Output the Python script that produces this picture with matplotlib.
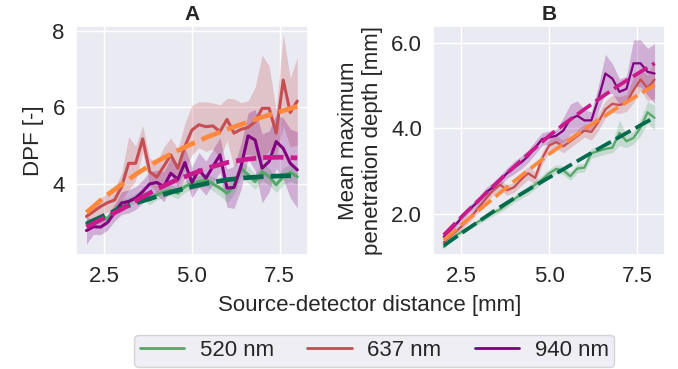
import numpy as np
import matplotlib
matplotlib.use("Agg")
import matplotlib.pyplot as plt
import seaborn as sns
from matplotlib.lines import Line2D

sns.set_theme(style="darkgrid")
plt.rcParams['font.family'] = ['Liberation Sans', 'DejaVu Sans']

# source-detector distances [mm]
dist = [2.0, 2.2, 2.4, 2.6, 2.8, 3.0, 3.2, 3.4, 3.6, 3.8, 4.0, 4.2, 4.4, 4.6, 4.8, 5.0,
        5.2, 5.4, 5.6, 5.8, 6.0, 6.2, 6.4, 6.6, 6.8, 7.0, 7.2, 7.4, 7.6, 7.8, 8.0]
fit_dist = [2.0, 2.5, 3.0, 3.5, 4.0, 4.5, 5.0, 5.5, 6.0, 6.5, 7.0, 7.5, 8.0]

labels = ["520 nm", "637 nm", "940 nm"]
line_cols = ["#55a868", "#c44e52", "#800080"]
fit_cols = ["#006b4c", "#ff8a3d", "#c9198b"]

# panel A: DPF
dpf_520 = [2.96, 3.05, 3.05, 3.09, 3.31, 3.49, 3.53, 3.62, 3.70, 3.57, 3.70, 3.79, 3.82, 3.75, 3.92, 4.01,
           4.05, 4.10, 3.99, 3.88, 3.75, 3.92, 4.40, 4.23, 4.05, 4.31, 4.18, 3.97, 4.18, 4.29, 4.18]
dpf_637 = [3.14, 3.27, 3.40, 3.50, 3.57, 3.92, 4.53, 4.53, 5.17, 4.31, 4.17, 4.45, 4.75, 4.40, 4.97, 5.40,
           5.54, 5.49, 5.51, 5.36, 5.68, 5.32, 5.42, 5.47, 5.62, 5.97, 5.97, 5.32, 6.71, 5.86, 6.16]
dpf_940 = [2.77, 2.87, 2.86, 2.98, 3.24, 3.49, 3.53, 3.62, 3.79, 3.99, 4.03, 3.92, 4.27, 4.11, 4.55, 4.03,
           4.36, 4.14, 4.45, 4.75, 3.88, 3.90, 4.45, 5.25, 5.14, 4.40, 4.58, 5.10, 4.92, 4.53, 4.36]
dpf_520_sd = [0.08, 0.08, 0.09, 0.09, 0.1, 0.1, 0.11, 0.12, 0.12, 0.13, 0.13, 0.14, 0.14, 0.15, 0.15, 0.16,
              0.16, 0.17, 0.18, 0.2, 0.25, 0.2, 0.22, 0.22, 0.2, 0.22, 0.22, 0.2, 0.22, 0.22, 0.2]
dpf_637_sd = [0.15, 0.2, 0.22, 0.25, 0.3, 0.35, 0.7, 0.45, 0.35, 0.35, 0.4, 0.5, 0.45, 0.5, 0.6, 0.65,
              0.6, 0.65, 0.6, 0.7, 0.55, 0.9, 0.7, 0.7, 0.9, 1.4, 1.1, 0.6, 1.2, 0.9, 1.15]
dpf_940_sd = [0.35, 0.2, 0.2, 0.2, 0.22, 0.3, 0.3, 0.3, 0.3, 0.32, 0.32, 0.4, 0.4, 0.4, 0.4, 0.4,
              0.45, 0.45, 0.45, 0.45, 0.5, 0.55, 0.6, 0.6, 0.8, 0.9, 0.8, 0.7, 0.8, 0.9, 1.0]
dpf_fit_520 = [2.94, 3.16, 3.36, 3.52, 3.66, 3.80, 3.92, 4.02, 4.10, 4.15, 4.18, 4.20, 4.21]
dpf_fit_637 = [3.24, 3.64, 3.98, 4.30, 4.58, 4.82, 5.04, 5.24, 5.42, 5.58, 5.74, 5.88, 6.02]
dpf_fit_940 = [2.86, 3.10, 3.33, 3.60, 3.85, 4.07, 4.25, 4.42, 4.55, 4.63, 4.68, 4.69, 4.67]

# panel B: mean maximum penetration depth [mm]
pd_520 = [1.22, 1.40, 1.52, 1.62, 1.72, 1.82, 1.92, 2.02, 2.10, 2.22, 2.34, 2.45, 2.55, 2.68, 2.80, 2.95,
          3.05, 3.02, 2.88, 3.06, 3.08, 3.42, 3.47, 3.52, 3.55, 3.90, 3.70, 3.78, 4.02, 4.38, 4.25]
pd_637 = [1.33, 1.48, 1.62, 1.78, 1.95, 2.15, 2.35, 2.55, 2.68, 2.55, 2.62, 2.80, 2.95, 2.84, 3.30, 3.60,
          3.68, 3.58, 3.70, 3.82, 3.95, 3.92, 4.15, 4.45, 4.58, 4.55, 4.60, 4.90, 5.15, 4.95, 5.15]
pd_940 = [1.46, 1.62, 1.80, 2.00, 2.15, 2.30, 2.50, 2.62, 2.78, 2.95, 3.08, 3.20, 3.35, 3.55, 3.75, 3.79,
          3.83, 3.95, 4.22, 4.30, 4.19, 4.19, 4.70, 5.29, 5.17, 4.86, 4.93, 5.53, 5.53, 5.33, 5.29]
pd_520_sd = [0.05, 0.05, 0.05, 0.06, 0.06, 0.06, 0.07, 0.07, 0.07, 0.08, 0.08, 0.1, 0.1, 0.1, 0.1, 0.1,
             0.1, 0.1, 0.1, 0.1, 0.1, 0.12, 0.12, 0.12, 0.12, 0.3, 0.15, 0.15, 0.2, 0.25, 0.3]
pd_637_sd = [0.07, 0.07, 0.08, 0.08, 0.09, 0.1, 0.1, 0.11, 0.12, 0.12, 0.12, 0.15, 0.15, 0.15, 0.15, 0.15,
             0.15, 0.15, 0.15, 0.15, 0.15, 0.2, 0.2, 0.2, 0.2, 0.2, 0.2, 0.3, 0.25, 0.3, 0.45]
pd_940_sd = [0.08, 0.08, 0.09, 0.1, 0.1, 0.1, 0.11, 0.11, 0.12, 0.12, 0.15, 0.15, 0.15, 0.15, 0.15, 0.15,
             0.15, 0.3, 0.35, 0.35, 0.25, 0.2, 0.3, 0.45, 0.35, 0.3, 0.3, 0.55, 0.55, 0.55, 0.7]
pd_fit_520 = [1.25, 1.54, 1.82, 2.10, 2.36, 2.61, 2.85, 3.09, 3.33, 3.57, 3.80, 4.03, 4.26]
pd_fit_637 = [1.38, 1.74, 2.08, 2.42, 2.76, 3.08, 3.40, 3.69, 3.98, 4.25, 4.52, 4.77, 5.02]
pd_fit_940 = [1.50, 1.92, 2.32, 2.72, 3.10, 3.47, 3.83, 4.15, 4.45, 4.74, 5.02, 5.28, 5.53]

FS = 16


def panel(ax, means, sds, fits, lw, fit_lw, dash):
    x = np.array(dist)
    for m, s, c in zip(means, sds, line_cols):
        m = np.array(m)
        s = np.array(s)
        ax.fill_between(x, m - s, m + s, color=c, alpha=0.25, lw=0)
        ax.plot(x, m, color=c, lw=lw)
    for f, c in zip(fits, fit_cols):
        ax.plot(fit_dist, f, color=c, lw=fit_lw, ls=(0, dash))
    ax.set_xticks([2.5, 5.0, 7.5])
    ax.tick_params(labelsize=FS, pad=2)


fig = plt.figure(figsize=(6.78, 3.69), dpi=100)
axA = fig.add_axes([0.112, 0.309, 0.342, 0.621])
axB = fig.add_axes([0.639, 0.309, 0.342, 0.621])

panel(axA, [dpf_520, dpf_637, dpf_940], [dpf_520_sd, dpf_637_sd, dpf_940_sd],
      [dpf_fit_520, dpf_fit_637, dpf_fit_940], 2.2, 3.4, (4.3, 1.5))
axA.set_yticks([4, 6, 8])
axA.set_ylim(2.13, 8.13)
axA.set_ylabel("DPF [-]", fontsize=FS, labelpad=6)
axA.set_title("A", fontweight="bold", fontsize=FS - 1, pad=4)

panel(axB, [pd_520, pd_637, pd_940], [pd_520_sd, pd_637_sd, pd_940_sd],
      [pd_fit_520, pd_fit_637, pd_fit_940], 1.6, 2.7, (4.5, 1.5))
axB.set_yticks([2.0, 4.0, 6.0])
axB.set_yticklabels(["2.0", "4.0", "6.0"])
axB.set_ylim(1.03, 6.41)
axB.set_ylabel("Mean maximum\npenetration depth [mm]", fontsize=FS, labelpad=6)
axB.set_title("B", fontweight="bold", fontsize=FS - 1, pad=4)

fig.text(0.545, 0.172, "Source-detector distance [mm]", ha="center", va="center", fontsize=FS)

handles = [Line2D([0], [0], color=c, lw=2) for c in line_cols]
fig.legend(handles, labels, loc="center", bbox_to_anchor=(0.552, 0.0495), ncol=3,
           fontsize=FS, frameon=True, handlelength=2.0, columnspacing=1.5,
           borderpad=0.25, handletextpad=0.7)

fig.savefig("out.png", dpi=100)
